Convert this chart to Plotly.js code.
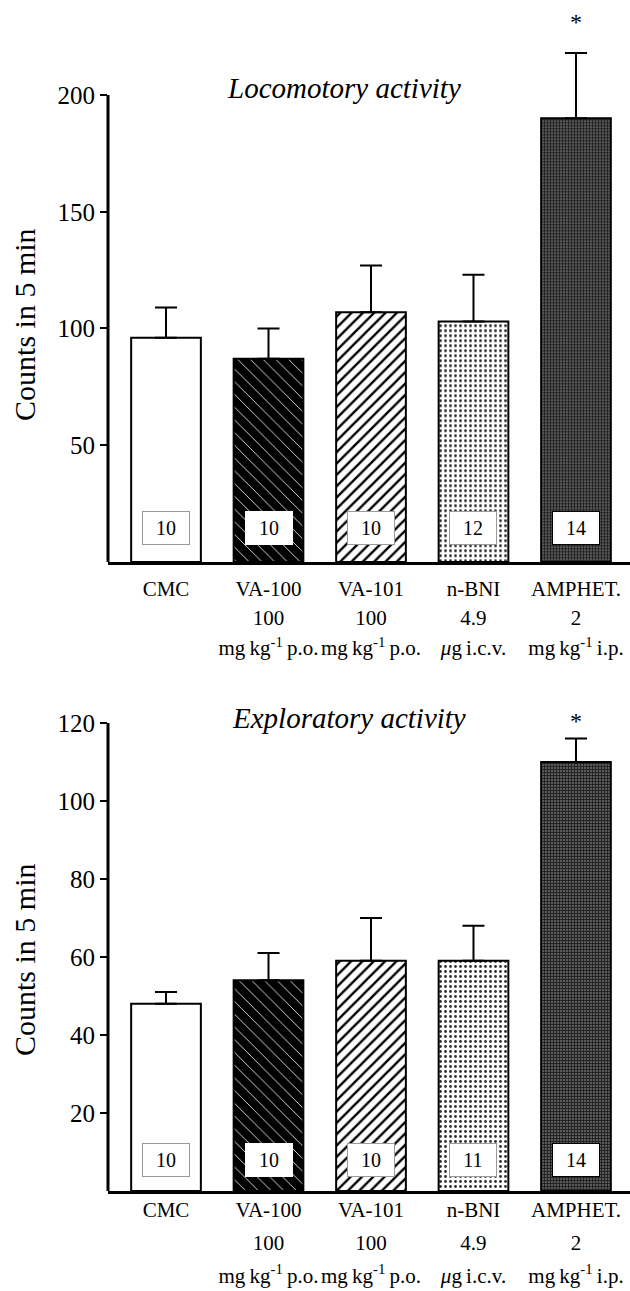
<!DOCTYPE html>
<html>
<head>
<meta charset="utf-8">
<script src="https://cdn.plot.ly/plotly-3.0.1.min.js"></script>
<style>
  html, body { margin: 0; padding: 0; background: #ffffff; }
  #chart { width: 630px; height: 1291px; }
</style>
</head>
<body>
<div id="chart"></div>
<script>
// ---------- data ----------
const categories = ['CMC', 'VA-100', 'VA-101', 'n-BNI', 'AMPHET.'];
const doseLines = ['', '100', '100', '4.9', '2'];
const unitLines = ['', 'mg\u2009kg<sup>-1</sup>\u2009p.o.', 'mg\u2009kg<sup>-1</sup>\u2009p.o.', '<i>μ</i>g\u2009i.c.v.', 'mg\u2009kg<sup>-1</sup>\u2009i.p.'];

const locoMean = [96, 87, 107, 103, 190];
const locoSEM  = [13, 13, 20, 20, 28];
const locoN    = [10, 10, 10, 12, 14];

const exploMean = [48, 54, 59, 59, 110];
const exploSEM  = [3, 7, 11, 9, 6];
const exploN    = [10, 10, 10, 11, 14];

const locoTicks  = [50, 100, 150, 200];
const exploTicks = [20, 40, 60, 80, 100, 120];

const locoTitle  = 'Locomotory activity';
const exploTitle = 'Exploratory activity';
const yTitle     = 'Counts in 5 min';
const sigMark    = '*';
const sigIndex   = 4;

// ---------- styles ----------
const FONT = 'Liberation Serif, Times New Roman, serif';
const patShape = ['', '\\', '/', '.', '+'];
const patFg    = ['#000000', '#ffffff', '#000000', '#303030', '#1a1a1a'];
const patBg    = ['#ffffff', '#000000', '#ffffff', '#ffffff', '#5a5a5a'];
const patSize  = [8, 9, 8, 5, 3];
const patSolid = [0.3, 0.09, 0.3, 0.25, 0.45];
const boxBorder = ['#9a9a9a', '#ffffff', '#9a9a9a', '#9a9a9a', '#000000'];

const tickText = categories.map((c, i) =>
  [c, doseLines[i], unitLines[i]].filter(s => s !== '')
    .map(s => '<span style="font-size:21px">' + s + '</span>').join('<br>'));

function barTraces(means, sems, xa, ya) {
  return categories.map((c, i) => ({
    type: 'bar',
    x: [c],
    y: [means[i]],
    xaxis: xa,
    yaxis: ya,
    width: 0.68,
    marker: {
      color: patBg[i],
      line: { color: '#000000', width: 2 },
      pattern: {
        shape: patShape[i],
        fgcolor: patFg[i],
        bgcolor: patBg[i],
        size: patSize[i],
        solidity: patSolid[i],
        fillmode: 'replace'
      }
    },
    error_y: {
      type: 'data',
      symmetric: false,
      array: [sems[i]],
      arrayminus: [0],
      color: '#000000',
      thickness: 2,
      width: 11
    },
    hoverinfo: 'skip',
    showlegend: false
  }));
}

const data = [].concat(
  barTraces(locoMean, locoSEM, 'x', 'y'),
  barTraces(exploMean, exploSEM, 'x2', 'y2')
);

function nBoxes(ns, xa, ya, shift) {
  return ns.map((n, i) => ({
    xref: xa, yref: ya,
    x: categories[i], y: 0,
    yanchor: 'bottom', xanchor: 'center',
    yshift: shift,
    text: String(n),
    showarrow: false,
    bgcolor: '#ffffff',
    bordercolor: boxBorder[i],
    borderwidth: 1,
    borderpad: 3,
    width: 40, height: 26,
    font: { family: FONT, size: 20, color: '#000000' }
  }));
}

const annotations = [].concat(
  nBoxes(locoN, 'x', 'y', 17),
  nBoxes(exploN, 'x2', 'y2', 14),
  [
    {
      xref: 'x', yref: 'y', x: categories[sigIndex],
      y: locoMean[sigIndex] + locoSEM[sigIndex],
      yanchor: 'middle', yshift: 31, showarrow: false,
      text: sigMark, font: { family: FONT, size: 24, color: '#000000' }
    },
    {
      xref: 'x2', yref: 'y2', x: categories[sigIndex],
      y: exploMean[sigIndex] + exploSEM[sigIndex],
      yanchor: 'middle', yshift: 18, showarrow: false,
      text: sigMark, font: { family: FONT, size: 24, color: '#000000' }
    },
    {
      xref: 'paper', yref: 'paper', x: 0.452, y: 0.9318,
      xanchor: 'center', yanchor: 'middle', showarrow: false,
      text: '<i>' + locoTitle + '</i>',
      font: { family: FONT, size: 29, color: '#000000' }
    },
    {
      xref: 'paper', yref: 'paper', x: 0.462, y: 0.4438,
      xanchor: 'center', yanchor: 'middle', showarrow: false,
      text: '<i>' + exploTitle + '</i>',
      font: { family: FONT, size: 29, color: '#000000' }
    },
    {
      xref: 'paper', yref: 'paper', x: -0.159, y: 0.7483,
      xanchor: 'center', yanchor: 'middle', showarrow: false, textangle: -90,
      text: yTitle,
      font: { family: FONT, size: 30, color: '#000000' }
    },
    {
      xref: 'paper', yref: 'paper', x: -0.159, y: 0.2564,
      xanchor: 'center', yanchor: 'middle', showarrow: false, textangle: -90,
      text: yTitle,
      font: { family: FONT, size: 30, color: '#000000' }
    }
  ]
);

function xAxis(anchor, baseSize, standoff) {
  return {
    anchor: anchor,
    domain: [0, 1],
    type: 'category',
    range: [-0.566, 4.527],
    tickmode: 'array',
    tickvals: categories,
    ticktext: tickText,
    tickangle: 0,
    ticks: '',
    ticklabelstandoff: standoff,
    showline: true,
    linewidth: 3,
    linecolor: '#000000',
    showgrid: false,
    zeroline: false,
    tickfont: { family: FONT, size: baseSize, color: '#000000' },
    fixedrange: true
  };
}

function yAxis(anchor, domain, range, ticks) {
  return {
    anchor: anchor,
    domain: domain,
    range: range,
    tickmode: 'array',
    tickvals: ticks,
    ticks: 'outside',
    ticklen: 7,
    tickwidth: 2,
    tickcolor: '#000000',
    showline: false,
    showgrid: false,
    zeroline: false,
    tickfont: { family: FONT, size: 25, color: '#000000' },
    fixedrange: true
  };
}

// y-axis lines run from 0 up to the top tick only, as in the reference
const shapes = [
  { type: 'line', xref: 'paper', yref: 'y', x0: 0, x1: 0, y0: 0, y1: locoTicks[locoTicks.length - 1],
    line: { color: '#000000', width: 3 } },
  { type: 'line', xref: 'paper', yref: 'y2', x0: 0, x1: 0, y0: 0, y1: exploTicks[exploTicks.length - 1],
    line: { color: '#000000', width: 3 } }
];

const layout = {
  width: 630,
  height: 1291,
  margin: { l: 108, r: 0, t: 0, b: 0 },
  paper_bgcolor: '#ffffff',
  plot_bgcolor: '#ffffff',
  showlegend: false,
  barmode: 'overlay',
  xaxis: xAxis('y', 23, 3),
  yaxis: yAxis('x', [0.5647, 0.9897], [0, 235], locoTicks),
  xaxis2: xAxis('y2', 25.5, -8),
  yaxis2: yAxis('x2', [0.0775, 0.47018], [0, 130], exploTicks),
  shapes: shapes,
  annotations: annotations
};

Plotly.newPlot('chart', data, layout, { displayModeBar: false, staticPlot: true });
</script>
</body>
</html>
